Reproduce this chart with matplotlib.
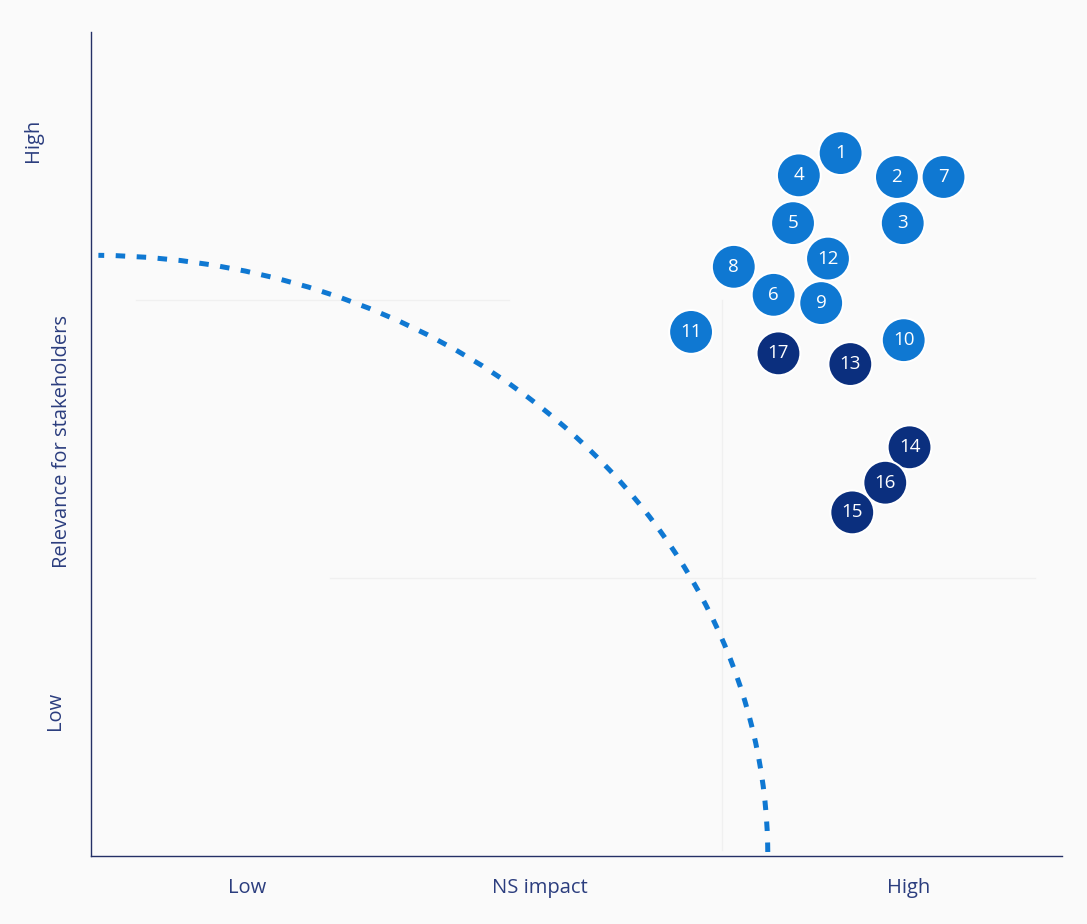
import numpy as np
import matplotlib.pyplot as plt
from matplotlib.patches import Arc

plt.rcParams['font.family'] = ['Open Sans', 'DejaVu Sans']

# topic numbers and their position on the materiality matrix (0-100 scale)
topics = [1, 2, 3, 4, 5, 6, 7, 8, 9, 10, 11, 12, 13, 14, 15, 16, 17]
ns_impact = [77.2, 83.0, 83.6, 72.9, 72.3, 70.3, 87.8, 66.2, 75.2, 83.7,
             61.8, 75.9, 78.2, 84.3, 78.4, 81.8, 70.8]
relevance = [85.3, 82.4, 76.8, 82.6, 76.8, 68.1, 82.4, 71.5, 67.1, 62.6,
             63.6, 72.5, 59.7, 49.6, 41.7, 45.3, 61.0]
# dark dots are the second group of topics
group = ['light'] * 12 + ['dark'] * 5

# materiality threshold: quarter ellipse around the origin
threshold_x = 69.7
threshold_y = 72.9

LIGHT = '#0f78d2'
DARK = '#0b2f7e'
NAVY = '#2b3d7e'

fig = plt.figure(figsize=(10.87, 9.24), dpi=100, facecolor='#fafafa')
ax = fig.add_axes([0.0837, 0.0736, 0.8933, 0.8918])
ax.set_facecolor('#fafafa')
ax.set_xlim(0, 100)
ax.set_ylim(0, 100)

for s in ['top', 'right']:
    ax.spines[s].set_visible(False)
for s in ['left', 'bottom']:
    ax.spines[s].set_color('#243066')
    ax.spines[s].set_linewidth(1.0)
ax.set_xticks([])
ax.set_yticks([])

# faint quadrant guides
ax.plot([4.6, 43.1], [67.5, 67.5], color='#f0f0f0', lw=1, zorder=0)
ax.plot([24.6, 97.2], [33.7, 33.7], color='#f0f0f0', lw=1, zorder=0)
ax.plot([65.0, 65.0], [0.7, 67.5], color='#f0f0f0', lw=1, zorder=0)

arc = Arc((0, 0), 2 * threshold_x, 2 * threshold_y, theta1=0.4, theta2=89.4,
          color=LIGHT, lw=3.6, linestyle=(0, (1.9, 2.3)), zorder=2)
ax.add_patch(arc)

colors = [LIGHT if g == 'light' else DARK for g in group]
ax.scatter(ns_impact, relevance, s=1000, c=colors, edgecolors='white',
           linewidths=1.5, zorder=3, clip_on=False)
for t, x, y in zip(topics, ns_impact, relevance):
    ax.text(x, y, str(t), color='white', fontsize=13.5, ha='center',
            va='center', zorder=4)

# axis captions
fig.text(247 / 1087, 1 - 888 / 924, 'Low', color=NAVY, fontsize=14.5,
         ha='center', va='center')
fig.text(540 / 1087, 1 - 888 / 924, 'NS impact', color=NAVY, fontsize=14.5,
         ha='center', va='center')
fig.text(909 / 1087, 1 - 888 / 924, 'High', color=NAVY, fontsize=14.5,
         ha='center', va='center')
fig.text(33 / 1087, 1 - 140 / 924, 'High', color=NAVY, fontsize=14.5,
         ha='center', va='center', rotation=90)
fig.text(55 / 1087, 1 - 711 / 924, 'Low', color=NAVY, fontsize=14.5,
         ha='center', va='center', rotation=90)
fig.text(62 / 1087, 1 - 441 / 924, 'Relevance for stakeholders', color=NAVY,
         fontsize=14.5, ha='center', va='center', rotation=90)

fig.savefig('out.png', dpi=100, facecolor=fig.get_facecolor())
